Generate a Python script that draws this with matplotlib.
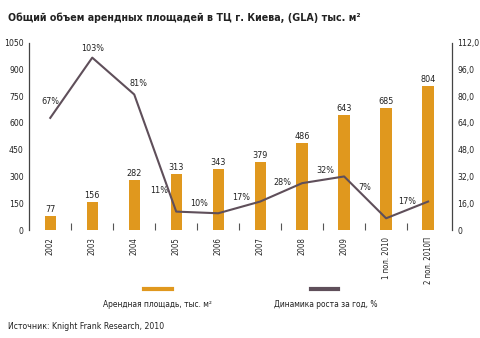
import matplotlib
matplotlib.use("Agg")
import matplotlib.pyplot as plt
from matplotlib.lines import Line2D
from matplotlib.ticker import FixedLocator, FuncFormatter

plt.rcParams['font.family'] = ['DejaVu Sans']
plt.rcParams['font.stretch'] = 'condensed'

categories = ['2002', '2003', '2004', '2005', '2006', '2007', '2008', '2009',
              '1 пол. 2010', '2 пол. 2010П']
area = [77, 156, 282, 313, 343, 379, 486, 643, 685, 804]
growth = [67, 103, 81, 11, 10, 17, 28, 32, 7, 17]

left_ticks = [0, 150, 300, 450, 600, 750, 900, 1050]
right_ticks = [0, 16, 32, 48, 64, 80, 96, 112]

# placement of the growth labels (x shift in categories, y in % units)
growth_label_dx = [0, 0, 0.1, -0.4, -0.45, -0.45, -0.47, -0.45, -0.5, -0.5]
growth_label_y = [76.7, 108.4, 87.4, 23.4, 15.6, 19.2, 28.1, 35.3, 25.2, 16.8]

bar_color = '#E0981E'
line_color = '#5F4F5A'
text_color = '#222222'

fig = plt.figure(figsize=(4.8, 3.38), dpi=100)
ax = fig.add_axes([0.061, 0.3195, 0.8807, 0.5545])
ax2 = ax.twinx()

x = list(range(len(categories)))
ax.bar(x, area, width=0.27, color=bar_color, zorder=2)
for xi, v in zip(x, area):
    ax.text(xi, v + 12, str(v), ha='center', va='bottom', fontsize=6.5,
            color=text_color)

ax.set_xlim(-0.5, 9.57)
ax.set_ylim(0, 1050)
ax.set_yticks(left_ticks)
ax.tick_params(axis='y', length=0, pad=4, labelsize=6.2, colors=text_color)
ax.set_xticks(x)
ax.set_xticklabels(categories, rotation=90, va='top', ha='center')
ax.xaxis.set_minor_locator(FixedLocator([i + 0.5 for i in range(9)]))
ax.tick_params(axis='x', which='major', length=0, pad=5, labelsize=5.6,
               colors=text_color)
ax.tick_params(axis='x', which='minor', direction='in', length=5,
               width=0.8, color='#555555')
for side in ('top', 'right', 'bottom'):
    ax.spines[side].set_visible(False)
ax.spines['left'].set_color('#444444')
ax.spines['left'].set_linewidth(0.9)

ax2.plot(x, growth, color=line_color, linewidth=1.5, zorder=3)
ax2.set_ylim(0, 112)
ax2.set_yticks(right_ticks)
ax2.yaxis.set_major_formatter(FuncFormatter(
    lambda v, p: '0' if v == 0 else f'{v:.1f}'.replace('.', ',')))
ax2.tick_params(axis='y', length=0, pad=4, labelsize=6.2, colors=text_color)
for side in ('top', 'left', 'bottom'):
    ax2.spines[side].set_visible(False)
ax2.spines['right'].set_color('#444444')
ax2.spines['right'].set_linewidth(0.9)
for xi, g, dx, gy in zip(x, growth, growth_label_dx, growth_label_y):
    ax2.text(xi + dx, gy, f'{g}%', ha='center', va='center', fontsize=6.5,
             color=text_color)

fig.text(0.017, 0.948, 'Общий объем арендных площадей в ТЦ г. Киева, (GLA) тыс. м²',
         fontsize=7.7, fontweight='bold', color=text_color, va='center')

# legend: swatch above its caption
fig.add_artist(Line2D([0.300, 0.358], [0.145, 0.145], color=bar_color,
                      linewidth=3, transform=fig.transFigure))
fig.add_artist(Line2D([0.648, 0.705], [0.145, 0.145], color=line_color,
                      linewidth=3, transform=fig.transFigure))
fig.text(0.328, 0.1, 'Арендная площадь, тыс. м²', ha='center', va='center',
         fontsize=6, color=text_color)
fig.text(0.678, 0.1, 'Динамика роста за год, %', ha='center', va='center',
         fontsize=6, color=text_color)
fig.text(0.017, 0.033, 'Источник: Knight Frank Research, 2010', ha='left',
         va='center', fontsize=6.2, color=text_color)

fig.savefig('out.png', dpi=100)
